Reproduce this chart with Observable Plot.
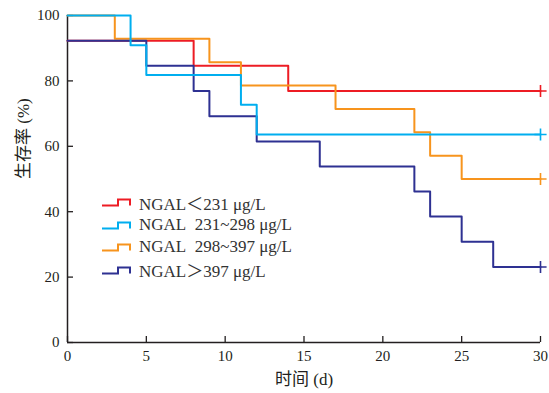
<!DOCTYPE html>
<html><head><meta charset="utf-8">
<script src="https://cdn.jsdelivr.net/npm/d3@7"></script>
<script src="https://cdn.jsdelivr.net/npm/@observablehq/plot@0.6"></script>
<style>
body{margin:0;background:#fff;}
#wrap{position:relative;width:549px;height:393px;font-family:"Liberation Serif","Noto Sans CJK SC",serif;}
#legend{position:absolute;left:101px;top:191px;font-size:17px;color:#333;}
.row{display:flex;align-items:center;height:22.5px;white-space:pre;}
.row svg{margin-right:7px;}
</style></head>
<body><div id="wrap"><div id="legend"></div></div>
<script>
const groupNames = ["NGAL\uFF1C231 \u03BCg/L", "NGAL\u2002231~298 \u03BCg/L", "NGAL\u2002298~397 \u03BCg/L", "NGAL\uFF1E397 \u03BCg/L"];
const groupColors = ["#ed1c24", "#00aeef", "#f7941d", "#2e3192"];

const timesG1 = [0, 8, 14, 30];
const survG1 = [92.3, 84.6, 76.9, 76.9];
const timesG2 = [0, 4, 5, 11, 12, 30];
const survG2 = [100, 90.9, 81.8, 72.7, 63.6, 63.6];
const timesG3 = [0, 3, 9, 11, 17, 22, 23, 25, 30];
const survG3 = [100, 92.9, 85.7, 78.6, 71.4, 64.3, 57.1, 50.0, 50.0];
const timesG4 = [0, 5, 8, 9, 12, 16, 22, 23, 25, 27, 30];
const survG4 = [92.3, 84.6, 76.9, 69.2, 61.5, 53.8, 46.2, 38.5, 30.8, 23.1, 23.1];

const xTicks = [0, 5, 10, 15, 20, 25, 30];
const yTicks = [0, 20, 40, 60, 80, 100];
const xLabel = "时间 (d)";
const yLabel = "生存率 (%)";

const series = [
  {t: timesG1, s: survG1, g: 0},
  {t: timesG2, s: survG2, g: 1},
  {t: timesG3, s: survG3, g: 2},
  {t: timesG4, s: survG4, g: 3}
];
const drawOrder = [0, 2, 3, 1];
const rows = [];
const censor = [];
for (const k of drawOrder) {
  const {t, s, g} = series[k];
  t.forEach((x, i) => rows.push({x, y: s[i], g: groupNames[g], o: k}));
  censor.push({x: t[t.length - 1], y: s[s.length - 1], g: groupNames[g]});
}

const axisColor = "#231f20";
const plot = Plot.plot({
  width: 549, height: 393,
  marginLeft: 67, marginRight: 9, marginTop: 15, marginBottom: 51,
  style: {fontFamily: '"Liberation Serif","Noto Sans CJK SC",serif', fontSize: "15px", color: axisColor, background: "transparent"},
  x: {domain: [0, 30]},
  y: {domain: [0, 100]},
  color: {domain: groupNames, range: groupColors},
  marks: [
    Plot.axisX({ticks: xTicks, tickSize: 0, tickPadding: 8, label: null, fontSize: 15}),
    Plot.axisX({ticks: xTicks, tickSize: 6, text: null, dy: -6, label: null, strokeWidth: 1.3}),
    Plot.axisY({ticks: yTicks, tickSize: 0, tickPadding: 8, label: null, fontSize: 15}),
    Plot.axisY({ticks: yTicks, tickSize: 6, text: null, dx: 6, label: null, strokeWidth: 1.3}),
    Plot.ruleX([0], {stroke: axisColor, strokeWidth: 1.5}),
    Plot.ruleY([0], {stroke: axisColor, strokeWidth: 1.5}),
    ...drawOrder.map(k => Plot.line(rows.filter(r => r.o === k), {x: "x", y: "y", stroke: "g", curve: "step-after", strokeWidth: 2})),
    Plot.dot(censor, {x: "x", y: "y", stroke: "g", symbol: "plus", r: 4, strokeWidth: 1.6}),
    Plot.text([xLabel], {frameAnchor: "bottom", dy: 42, fontSize: 17, fill: axisColor}),
    Plot.text([yLabel], {frameAnchor: "left", dx: -44, rotate: -90, fontSize: 17, fill: axisColor})
  ]
});
document.getElementById("wrap").appendChild(plot);

const legend = document.getElementById("legend");
groupNames.forEach((name, i) => {
  const row = document.createElement("div");
  row.className = "row";
  row.innerHTML = `<svg width="31" height="10"><path d="M1,8.5H17V2.5H29V8.5" fill="none" stroke="${groupColors[i]}" stroke-width="2"/></svg><span>${name}</span>`;
  legend.appendChild(row);
});
</script></body></html>
